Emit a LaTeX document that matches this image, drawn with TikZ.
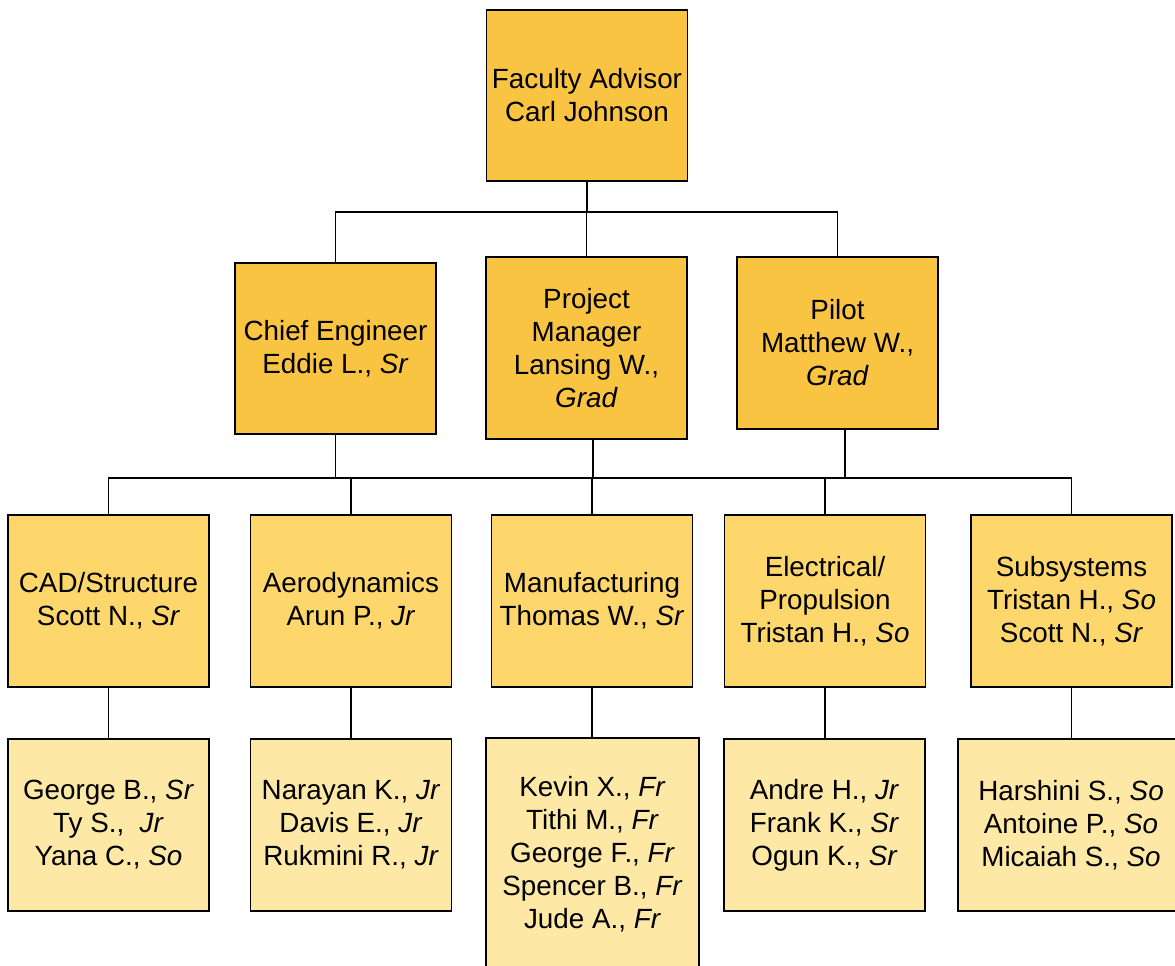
\documentclass[tikz,border=0pt]{standalone}
\usepackage{fontspec}
\setmainfont{Liberation Sans}
\usepackage{tikz}

\definecolor{lead}{RGB}{249,196,66}
\definecolor{team}{RGB}{253,214,108}
\definecolor{crew}{RGB}{253,232,166}

\tikzset{
  box/.style={draw, line width=1.6pt, align=center, inner sep=0pt,
    minimum width=201pt, minimum height=172pt,
    font=\fontsize{27.8}{33}\selectfont},
  leadbox/.style={box, fill=lead},
  teambox/.style={box, fill=team},
  crewbox/.style={box, fill=crew}
}

\begin{document}
\begin{tikzpicture}[x=1pt, y=-1pt, line width=1.6pt]
\useasboundingbox (0,0) rectangle (1175,966);
% advisor and leads
\path (587,95.5) node[leadbox, minimum height=171pt] (fa) {Faculty Advisor\\Carl Johnson}
      (335.5,348.5) node[leadbox, minimum height=171pt] (ce) {Chief Engineer\\Eddie L., \textit{Sr}}
      (586.5,348) node[leadbox, minimum height=182pt] (pm) {Project\\Manager\\Lansing W.,\\\textit{Grad}}
      (837.5,343) node[leadbox] (pi) {Pilot\\Matthew W.,\\\textit{Grad}}
      ;
% sub-teams
\path (108.5,601) node[teambox] (cad) {CAD/Structure\\Scott N., \textit{Sr}}
      (351,601) node[teambox] (aero) {Aerodynamics\\Arun P., \textit{Jr}}
      (592,601) node[teambox] (manu) {Manufacturing\\Thomas W., \textit{Sr}}
      (825,601) node[teambox] (elec) {Electrical/\\Propulsion\\Tristan H., \textit{So}}
      (1071.5,601) node[teambox] (subs) {Subsystems\\Tristan H., \textit{So}\\Scott N., \textit{Sr}}
      ;
% members
\path (108.5,825) node[crewbox] (cadm) {George B., \textit{Sr}\\Ty S.,\ \ \textit{Jr}\\Yana C., \textit{So}}
      (351,825) node[crewbox] (aerom) {Narayan K., \textit{Jr}\\Davis E., \textit{Jr}\\Rukmini R., \textit{Jr}}
      (592.5,854) node[crewbox, minimum width=213pt, minimum height=232pt] (manum) {Kevin X., \textit{Fr}\\Tithi M., \textit{Fr}\\George F., \textit{Fr}\\Spencer B., \textit{Fr}\\Jude A., \textit{Fr}}
      (824.5,825) node[crewbox] (elecm) {Andre H., \textit{Jr}\\Frank K., \textit{Sr}\\Ogun K., \textit{Sr}}
      (1071,825) node[crewbox, minimum width=226pt] (subsm) {Harshini S., \textit{So}\\Antoine P., \textit{So}\\Micaiah S., \textit{So}}
      ;
% buses
\coordinate (j1) at ([yshift=-30pt]fa.south);
\coordinate (j2) at (590,478);
\draw (fa.south) -- (j1);
\draw (ce.north) |- (j1) -| (pi.north);
\draw (pm.north) -- (pm.north |- j1);
\draw (ce.south) -- (ce.south |- j2);
\draw ([xshift=6.5pt]pm.south) -- ([xshift=6.5pt]pm.south |- j2);
\draw ([xshift=7.5pt]pi.south) -- ([xshift=7.5pt]pi.south |- j2);
\draw (cad.north) |- (j2) -| (subs.north);
\draw (aero.north) -- (aero.north |- j2);
\draw (manu.north) -- (manu.north |- j2);
\draw (elec.north) -- (elec.north |- j2);
% team to members
\draw (node cs:name=cad) -- (node cs:name=cadm);
\draw (node cs:name=aero) -- (node cs:name=aerom);
\draw (manu.south) -- (manu.south |- manum.north);
\draw (elec.south) -- (elec.south |- elecm.north);
\draw (subs.south) -- (subs.south |- subsm.north);
\end{tikzpicture}
\end{document}
